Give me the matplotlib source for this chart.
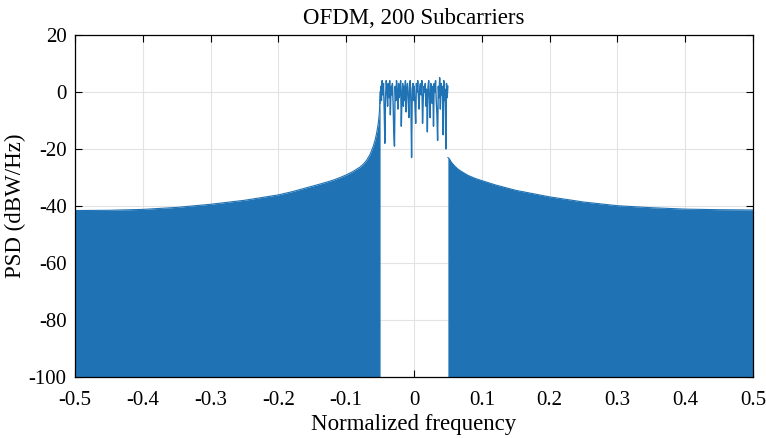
import numpy as np
import matplotlib.pyplot as plt

# out-of-band envelope (normalized freq, dB)
left_freq = [-0.5, -0.45, -0.4, -0.35, -0.3, -0.25, -0.2, -0.18, -0.16, -0.14,
             -0.12, -0.11, -0.1, -0.09, -0.08, -0.075, -0.07, -0.065, -0.06,
             -0.057, -0.055, -0.053, -0.052, -0.051, -0.0505, -0.05]
left_psd = [-41.6, -41.5, -41.2, -40.5, -39.4, -38.0, -36.1, -35.0, -33.7, -32.4,
            -31.0, -30.1, -29.1, -27.9, -26.4, -25.4, -24.0, -22.0, -19.0,
            -16.5, -14.3, -11.5, -9.5, -7.0, -4.0, 0.0]

right_freq = [0.05, 0.052, 0.055, 0.06, 0.065, 0.07, 0.08, 0.09, 0.1, 0.12,
              0.15, 0.2, 0.25, 0.3, 0.35, 0.4, 0.45, 0.5]
right_psd = [-23.0, -23.4, -24.6, -26.0, -27.1, -27.9, -29.3, -30.3, -31.1, -32.6,
             -34.5, -36.8, -38.6, -39.9, -40.6, -41.1, -41.3, -41.4]

# in-band PSD samples (dB), -0.05 .. 0.05
inband_psd = [
    -4, 2, -3, 4, -1, 3, -6, -18, -2, 4,
    1, -5, 3, -2, 4, -8, 2, -1, 3, -4,
    -14, -19, 2, -3, 4, 0, -6, 3, -2, 1,
    4, -12, -1, 3, -5, 2, -3, 4, -7, 1,
    3, -2, -9, 2, 4, -4, -23, 1, 3, -3,
    2, -5, -11, 3, 0, 4, -2, -6, 2, 3,
    -1, 4, -11, -3, 2, 0, 3, -5, 1, -14,
    2, 4, -2, -9, 3, 1, -4, 2, -12, 3,
    0, 4, -3, -8, -17, 2, -2, 5, -6, 3,
    -1, 2, -15, 4, -3, 1, -20, 3, -2, 2]

color = '#1f72b4'
plt.rcParams['font.family'] = ['Liberation Serif', 'DejaVu Serif']

fig = plt.figure(figsize=(7.66, 4.38), dpi=100)
ax = fig.add_axes([0.0979, 0.1393, 0.8851, 0.7808])

ax.fill_between(left_freq, -100, left_psd, color=color, linewidth=0)
ax.fill_between(right_freq, -100, right_psd, color=color, linewidth=0)
ax.plot(left_freq, left_psd, color=color, linewidth=0.8)
ax.plot(right_freq, right_psd, color=color, linewidth=0.8)

inband_freq = np.linspace(-0.05, 0.05, len(inband_psd))
ax.plot(inband_freq, inband_psd, color=color, linewidth=1.0)

ax.set_xlim(-0.5, 0.5)
ax.set_ylim(-100, 20)
ax.set_xticks(np.arange(-0.5, 0.51, 0.1))
ax.set_xticklabels(['-0.5', '-0.4', '-0.3', '-0.2', '-0.1', '0',
                    '0.1', '0.2', '0.3', '0.4', '0.5'])
ax.set_yticks(range(-100, 21, 20))
ax.set_yticklabels(['-100', '-80', '-60', '-40', '-20', '0', '20'])
ax.grid(True, color='#e3e3e3', linewidth=0.8)
ax.set_axisbelow(True)
ax.tick_params(direction='in', top=True, right=True, length=5, labelsize=15)
ax.tick_params(axis='x', pad=10)
ax.tick_params(axis='y', pad=6)
for s in ax.spines.values():
    s.set_linewidth(0.9)

ax.set_title('OFDM, 200 Subcarriers', fontsize=16.5, pad=8)
ax.set_xlabel('Normalized frequency', fontsize=16.5, labelpad=3)
ax.set_ylabel('PSD (dBW/Hz)', fontsize=16.5, labelpad=2)

fig.savefig('out.png', dpi=100)
